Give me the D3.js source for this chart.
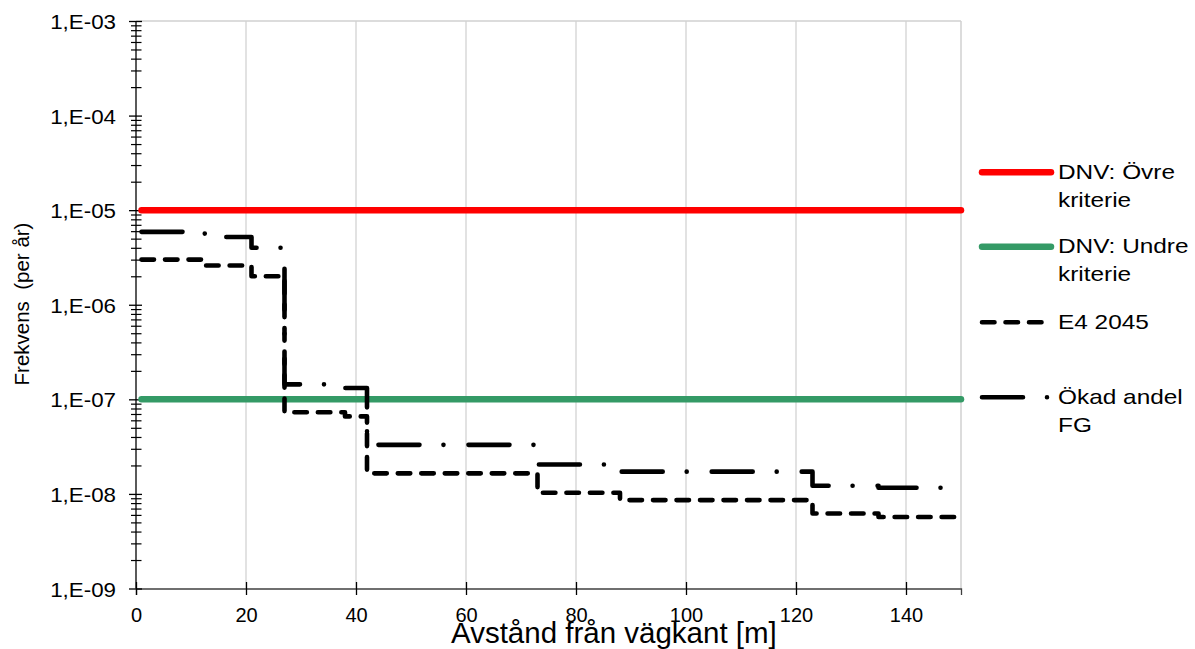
<!DOCTYPE html>
<html>
<head>
<meta charset="utf-8">
<script src="https://cdn.jsdelivr.net/npm/d3@7"></script>
<style>
body { margin: 0; background: #fff; }
text { font-family: Arial, "Liberation Sans", sans-serif; fill: #000; }
</style>
</head>
<body>
<svg width="1195" height="649"></svg>
<script>
// step data, value holds from this distance to the next one
var distances = [1, 12.5, 21, 27, 38, 42, 73, 88, 123, 135, 150];
var e4_2045 = [3.0e-6, 2.6e-6, 2.0e-6, 7.3e-8, 6.6e-8, 1.65e-8, 1.03e-8, 8.6e-9, 6.2e-9, 5.7e-9, 5.7e-9];
var okadFG = [5.9e-6, 5.2e-6, 4.0e-6, 1.44e-7, 1.32e-7, 3.3e-8, 2.05e-8, 1.72e-8, 1.22e-8, 1.16e-8, 1.16e-8];
var ovreKriterie = 1e-5;
var undreKriterie = 1e-7;
var xTicks = [0, 20, 40, 60, 80, 100, 120, 140];
var yDecades = [1e-9, 1e-8, 1e-7, 1e-6, 1e-5, 1e-4, 1e-3];
var legendLabels = [["DNV: Övre", "kriterie"], ["DNV: Undre", "kriterie"], ["E4 2045"], ["Ökad andel", "FG"]];

var svg = d3.select("svg");

var plotLeft = 136, plotRight = 961, plotTop = 21, plotBottom = 588.5;

var x = d3.scaleLinear().domain([0, 150]).range([plotLeft, plotRight]);
var y = d3.scaleLog().domain([1e-9, 1e-3]).range([plotBottom, plotTop]);

// grid
var grid = svg.append("g");
grid.selectAll("line.v")
  .data(xTicks.slice(1))
  .enter().append("line")
  .attr("x1", function (d) { return x(d) }).attr("x2", function (d) { return x(d) })
  .attr("y1", plotTop).attr("y2", plotBottom)
  .attr("stroke", "#d9d9d9").attr("stroke-width", 1.5);
grid.append("line")
  .attr("x1", plotLeft).attr("x2", plotRight).attr("y1", plotTop).attr("y2", plotTop)
  .attr("stroke", "#d0d0d0").attr("stroke-width", 1.5);
grid.append("line")
  .attr("x1", plotRight).attr("x2", plotRight).attr("y1", plotTop).attr("y2", plotBottom)
  .attr("stroke", "#d0d0d0").attr("stroke-width", 1.5);

// x axis
var xAxis = svg.append("g").attr("transform", "translate(0," + plotBottom + ")")
  .call(d3.axisBottom(x).tickValues(xTicks).tickSize(6.5).tickPadding(0).tickFormat(d3.format("d")));
xAxis.select(".domain").attr("stroke", "#404040").attr("stroke-width", 1.3);
xAxis.selectAll(".tick line").attr("y1", -6.5).attr("stroke", "#000").attr("stroke-width", 1.3);
xAxis.selectAll(".tick text").attr("y", 33).attr("dy", null)
  .style("font-size", "20px").style("font-family", "Arial, 'Liberation Sans', sans-serif");

// y axis, minor ticks first
var minors = y.ticks().filter(function (d) {
  return yDecades.every(function (v) { return Math.abs(d / v - 1) > 1e-6 });
});
var yMinor = svg.append("g").attr("transform", "translate(" + plotLeft + ",0)")
  .call(d3.axisLeft(y).tickValues(minors).tickSize(5).tickFormat(""));
yMinor.select(".domain").remove();
yMinor.selectAll(".tick line").attr("x1", 5.5).attr("stroke", "#000").attr("stroke-width", 1.2);

var yAxis = svg.append("g").attr("transform", "translate(" + plotLeft + ",0)")
  .call(d3.axisLeft(y).tickValues(yDecades).tickSize(7).tickPadding(0)
    .tickFormat(function (d) {
      var e = Math.round(Math.log10(d));
      return "1,E-" + (e > -10 ? "0" : "") + Math.abs(e);
    }));
yAxis.select(".domain").attr("d", "M0," + plotTop + "V" + plotBottom).attr("stroke", "#000").attr("stroke-width", 1.3);
yAxis.selectAll(".tick line").attr("x1", 6).attr("stroke", "#000").attr("stroke-width", 1.3);
yAxis.selectAll(".tick text").attr("x", 0).attr("dy", "0.37em")
  .attr("transform", "translate(-20,0) scale(1.09,1)")
  .style("font-size", "20.5px").style("font-family", "Arial, 'Liberation Sans', sans-serif");

// axis titles
svg.append("text")
  .attr("transform", "translate(29,304) rotate(-90)")
  .attr("text-anchor", "middle")
  .style("font-size", "20.5px")
  .style("white-space", "pre")
  .text("Frekvens  (per år)");
svg.append("text")
  .attr("x", 451).attr("y", 643)
  .style("font-size", "29.5px")
  .text("Avstånd från vägkant [m]");

// series
var line = d3.line()
  .x(function (d) { return x(d[0]) })
  .y(function (d) { return y(d[1]) })
  .curve(d3.curveStepAfter);

var x0 = distances[0], x1 = distances[distances.length - 1];
var series = [
  { pts: [[x0, ovreKriterie], [x1, ovreKriterie]], color: "#ff0000", width: 6.5, dash: null },
  { pts: [[x0, undreKriterie], [x1, undreKriterie]], color: "#349a66", width: 6.5, dash: null },
  { pts: d3.zip(distances, e4_2045), color: "#000", width: 4.6, dash: "12.5,11" },
  { pts: d3.zip(distances, okadFG), color: "#000", width: 4.6, dash: "41,24,0,25" }
];

svg.append("g").selectAll("path")
  .data(series)
  .enter().append("path")
  .attr("d", function (s) { return line(s.pts) })
  .attr("fill", "none")
  .attr("stroke", function (s) { return s.color })
  .attr("stroke-width", function (s) { return s.width })
  .attr("stroke-dasharray", function (s) { return s.dash })
  .attr("stroke-linecap", "round")
  .attr("stroke-linejoin", "round");

// legend
var legendY = [172.3, 246.7, 322.3, 397.3];
var legend = svg.append("g").selectAll("g")
  .data(series)
  .enter().append("g")
  .attr("transform", function (s, i) { return "translate(0," + legendY[i] + ")" });

legend.append("line")
  .attr("x1", 982).attr("x2", function (s, i) { return i === 2 ? 1043 : 1051 })
  .attr("y1", 0).attr("y2", 0)
  .attr("stroke", function (s) { return s.color })
  .attr("stroke-width", function (s) { return s.width })
  .attr("stroke-dasharray", function (s) { return s.dash })
  .attr("stroke-linecap", "round");

legend.each(function (s, i) {
  var t = d3.select(this).append("text")
    .attr("transform", "translate(1058,6.7) scale(1.22,1)")
    .style("font-size", "20px");
  legendLabels[i].forEach(function (l, j) {
    t.append("tspan").attr("x", 0).attr("dy", j === 0 ? 0 : 28).text(l);
  });
});
</script>
</body>
</html>
